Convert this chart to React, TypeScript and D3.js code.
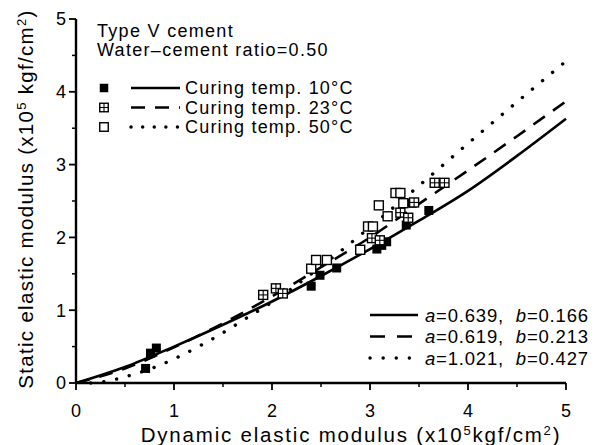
import React from 'react';
import * as d3 from 'd3';

const xMajor = [0, 1, 2, 3, 4, 5];
const yMajor = [0, 1, 2, 3, 4, 5];
const xMinor = [0.5, 1.5, 2.5, 3.5, 4.5];
const yMinor = [0.5, 1.5, 2.5, 3.5, 4.5];

// measured points: [dynamic, static]
const points10: [number, number][] = [
  [0.71, 0.2], [0.76, 0.41], [0.82, 0.48],
  [2.4, 1.33], [2.49, 1.48], [2.66, 1.58],
  [3.07, 1.84], [3.12, 1.89], [3.17, 1.94],
  [3.37, 2.17], [3.43, 2.47], [3.6, 2.37],
];
const points23: [number, number][] = [
  [1.91, 1.21], [2.04, 1.3], [2.11, 1.23],
  [3.02, 1.99], [3.1, 1.96], [3.31, 2.34], [3.39, 2.27],
  [3.45, 2.48], [3.66, 2.75], [3.76, 2.75],
];
const points50: [number, number][] = [
  [2.4, 1.57], [2.45, 1.69], [2.56, 1.69], [2.9, 1.83],
  [2.98, 2.15], [3.03, 2.15], [3.09, 2.44], [3.18, 2.29],
  [3.26, 2.61], [3.31, 2.61], [3.34, 2.47],
];

// fitted curves
const curve10: [number, number][] = [
  [0, 0], [0.5, 0.22], [1, 0.5], [1.5, 0.8], [2, 1.12], [2.5, 1.47],
  [3, 1.84], [3.5, 2.23], [4, 2.64], [4.5, 3.12], [5, 3.63],
];
const curve23: [number, number][] = [
  [0, 0], [0.5, 0.2], [1, 0.49], [1.5, 0.82], [2, 1.19], [2.5, 1.59],
  [3, 2.0], [3.5, 2.46], [4, 2.92], [4.5, 3.39], [5, 3.87],
];
const curve50: [number, number][] = [
  [0.15, 0], [0.3, 0.02], [0.5, 0.085], [0.75, 0.19], [1, 0.33], [1.25, 0.5],
  [1.5, 0.69], [1.75, 0.9], [2, 1.11], [2.5, 1.6], [3, 2.14], [3.5, 2.71],
  [4, 3.29], [4.5, 3.86], [5, 4.42],
];

const legendLabels = ['Curing temp. 10°C', 'Curing temp. 23°C', 'Curing temp. 50°C'];
const fitA = ['0.639', '0.619', '1.021'];
const fitB = ['0.166', '0.213', '0.427'];
const noteLines = ['Type V cement', 'Water\u2013cement ratio=0.50'];

const W = 611;
const H = 445;
const FONT = "'Liberation Sans', Arial, Helvetica, sans-serif";

const x = d3.scaleLinear().domain([0, 5]).range([76, 566]);
const y = d3.scaleLinear().domain([0, 5]).range([383, 19]);

const lineGen = d3
  .line<[number, number]>()
  .x((d) => x(d[0]))
  .y((d) => y(d[1]))
  .curve(d3.curveMonotoneX);

const styles = [
  { dash: undefined as string | undefined, cap: 'butt' as const, width: 2.6 },
  { dash: '14 10', cap: 'butt' as const, width: 2.6 },
  { dash: '0.1 13', cap: 'round' as const, width: 3.4 },
];

const MS = 9;

function Marker({ kind, cx, cy, s = MS }: { kind: number; cx: number; cy: number; s?: number }) {
  const h = s / 2;
  if (kind === 0) {
    return <rect x={cx - h} y={cy - h} width={s} height={s} fill="#000" />;
  }
  return (
    <g>
      <rect x={cx - h} y={cy - h} width={s} height={s} fill="#fff" stroke="#000" strokeWidth={1.4} />
      {kind === 1 && (
        <g stroke="#000" strokeWidth={1.1}>
          <line x1={cx} x2={cx} y1={cy - h} y2={cy + h} />
          <line x1={cx - h} x2={cx + h} y1={cy} y2={cy} />
        </g>
      )}
    </g>
  );
}

export default function App() {
  const curves = [curve10, curve23, curve50];
  const pts = [points10, points23, points50];
  return (
    <svg
      width={W}
      height={H}
      viewBox={`0 0 ${W} ${H}`}
      style={{ position: 'absolute', left: 0, top: 0, background: '#fff' }}
      fontFamily={FONT}
    >
      <rect x={0} y={0} width={W} height={H} fill="#fff" />
      {/* axes */}
      <line x1={x(0)} x2={x(5)} y1={y(0)} y2={y(0)} stroke="#000" strokeWidth={2.4} />
      <line x1={x(0)} x2={x(0)} y1={y(0)} y2={y(5)} stroke="#000" strokeWidth={2.4} />
      {xMajor.map((t) => (
        <g key={'xm' + t}>
          <line x1={x(t)} x2={x(t)} y1={y(0)} y2={y(0) + 7} stroke="#000" strokeWidth={1.8} />
          <text x={x(t)} y={417} fontSize={18} textAnchor="middle">{t}</text>
        </g>
      ))}
      {xMinor.map((t) => (
        <line key={'xn' + t} x1={x(t)} x2={x(t)} y1={y(0)} y2={y(0) + 4} stroke="#000" strokeWidth={1.5} />
      ))}
      {yMajor.map((t) => (
        <g key={'ym' + t}>
          <line x1={x(0) - 7} x2={x(0)} y1={y(t)} y2={y(t)} stroke="#000" strokeWidth={1.8} />
          <text x={66} y={y(t)} dy="0.36em" fontSize={18} textAnchor="end">{t}</text>
        </g>
      ))}
      {yMinor.map((t) => (
        <line key={'yn' + t} x1={x(0) - 4} x2={x(0)} y1={y(t)} y2={y(t)} stroke="#000" strokeWidth={1.5} />
      ))}

      {/* axis titles */}
      <text x={351} y={442} fontSize={20.5} textAnchor="middle" letterSpacing={1.8}>
        Dynamic elastic modulus (x10
        <tspan fontSize={13} dy={-7}>5</tspan>
        <tspan dy={7}>kgf/cm</tspan>
        <tspan fontSize={13} dy={-7}>2</tspan>
        <tspan dy={7}>)</tspan>
      </text>
      <text transform="translate(33,199) rotate(-90)" fontSize={20.5} textAnchor="middle" letterSpacing={1.3}>
        Static elastic modulus (x10
        <tspan fontSize={13} dy={-7}>5</tspan>
        <tspan dy={7}> kgf/cm</tspan>
        <tspan fontSize={13} dy={-7}>2</tspan>
        <tspan dy={7}>)</tspan>
      </text>

      {/* curves */}
      {curves.map((c, i) => (
        <path
          key={'c' + i}
          d={lineGen(c) || ''}
          fill="none"
          stroke="#000"
          strokeWidth={styles[i].width}
          strokeDasharray={styles[i].dash}
          strokeLinecap={styles[i].cap}
        />
      ))}

      {/* points */}
      {pts.map((p, i) =>
        p.map((d, j) => <Marker key={`p${i}-${j}`} kind={i} cx={x(d[0])} cy={y(d[1])} />)
      )}

      {/* note */}
      {noteLines.map((t, i) => (
        <text key={'n' + i} x={97} y={37 + i * 18.5} fontSize={18} letterSpacing={1.3}>{t}</text>
      ))}

      {/* top-left legend */}
      {legendLabels.map((t, i) => {
        const ly = 88 + i * 19.5;
        return (
          <g key={'l' + i}>
            <Marker kind={i} cx={104} cy={ly} s={8.5} />
            <line
              x1={131}
              x2={180}
              y1={ly}
              y2={ly}
              stroke="#000"
              strokeWidth={styles[i].width}
              strokeDasharray={i === 2 ? '0.1 11.5' : styles[i].dash}
              strokeLinecap={styles[i].cap}
            />
            <text x={185} y={ly} dy="0.36em" fontSize={18} letterSpacing={1.2}>{t}</text>
          </g>
        );
      })}

      {/* bottom-right legend */}
      {fitA.map((a, i) => {
        const ly = 315 + i * 21.5;
        return (
          <g key={'f' + i}>
            <line
              x1={370}
              x2={418}
              y1={ly}
              y2={ly}
              stroke="#000"
              strokeWidth={styles[i].width}
              strokeDasharray={i === 1 ? '15 12' : styles[i].dash}
              strokeLinecap={styles[i].cap}
            />
            <text x={425} y={ly} dy="0.36em" fontSize={18.5} letterSpacing={0.8} style={{ whiteSpace: 'pre' }}>
              <tspan fontStyle="italic">a</tspan>
              {'=' + a + ',  '}
              <tspan fontStyle="italic">b</tspan>
              {'=' + fitB[i]}
            </text>
          </g>
        );
      })}
    </svg>
  );
}
